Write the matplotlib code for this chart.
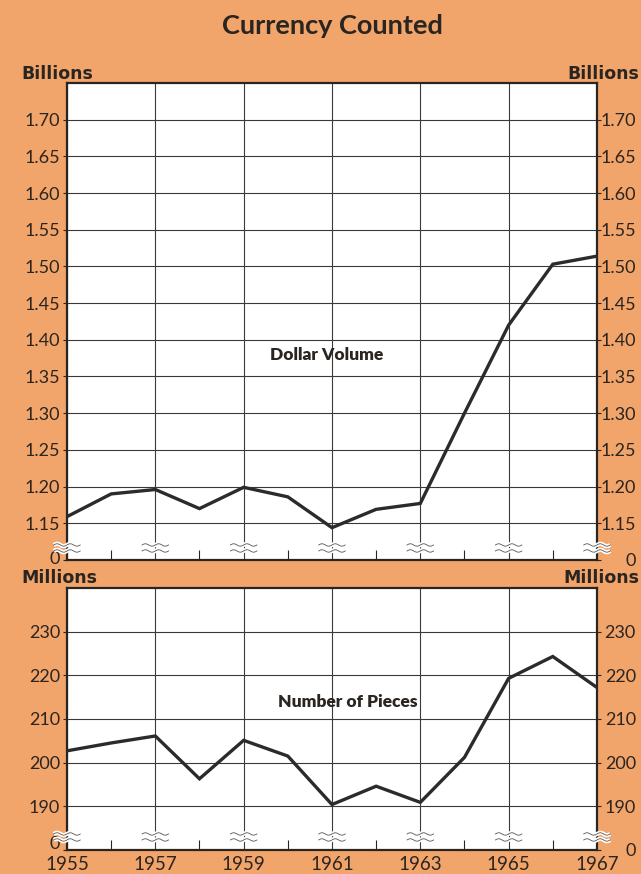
import numpy as np
import matplotlib
matplotlib.use("Agg")
import matplotlib.pyplot as plt
import matplotlib.transforms as mtransforms

BG = "#F2A56B"
INK = "#2a2520"
FONT = ["Lato", "DejaVu Sans"]

years = list(range(1955, 1968))
dollar_volume = [1.159, 1.190, 1.196, 1.170, 1.199, 1.186, 1.144,
                 1.169, 1.177, 1.300, 1.420, 1.503, 1.514]
pieces = [202.7, 204.5, 206.1, 196.3, 205.1, 201.5, 190.4,
          194.6, 190.9, 201.2, 219.3, 224.3, 217.2]

top_ticks = [1.10, 1.15, 1.20, 1.25, 1.30, 1.35, 1.40, 1.45, 1.50, 1.55, 1.60, 1.65, 1.70]
top_labels = ["0", "1.15", "1.20", "1.25", "1.30", "1.35", "1.40", "1.45",
              "1.50", "1.55", "1.60", "1.65", "1.70"]
bot_ticks = [180, 190, 200, 210, 220, 230]
bot_labels = ["0", "190", "200", "210", "220", "230"]
year_ticks = years[::2]
year_labels = [str(y) for y in year_ticks]

plt.rcParams['font.family'] = FONT

fig = plt.figure(figsize=(6.41, 8.74), dpi=100)
fig.patch.set_facecolor(BG)

ax_top = fig.add_axes([0.1045, 0.3593, 0.8268, 0.5458])
ax_bot = fig.add_axes([0.1045, 0.0275, 0.8268, 0.2998])


def style_axis(ax, yticks, ylabels, ylim, show_years, zero_lift):
    ax.set_facecolor("white")
    ax.set_xlim(1955, 1967)
    ax.set_ylim(*ylim)
    ax.set_yticks(yticks)
    ax.set_yticklabels(ylabels)
    ax.set_xticks(year_ticks)
    ax.set_xticks(years[1::2], minor=True)
    ax.grid(True, which="major", color="#3a3a3a", linewidth=0.8)
    ax.tick_params(axis="y", which="major", direction="out", length=3, width=0.8,
                   color=INK, labelsize=13, labelcolor=INK, pad=2,
                   left=True, right=True, labelleft=True, labelright=True)
    ax.tick_params(axis="x", which="major", length=0, labelsize=13.5,
                   labelcolor=INK, pad=4, labelbottom=show_years)
    ax.tick_params(axis="x", which="minor", direction="in", length=7,
                   width=0.8, color=INK, top=False)
    if show_years:
        ax.set_xticklabels(year_labels)
    for s in ax.spines.values():
        s.set_color(INK)
        s.set_linewidth(1.6)
    # right-hand labels sit flush right near the figure border
    shift = mtransforms.ScaledTranslation(23 / 72, 0, fig.dpi_scale_trans)
    for tk in ax.yaxis.get_major_ticks():
        tk.label2.set_horizontalalignment("right")
        tk.label2.set_transform(tk.label2.get_transform() + shift)
    # the "0" under the break sits a little higher on the left
    first = ax.yaxis.get_major_ticks()[0]
    lift = mtransforms.ScaledTranslation(0, zero_lift / 100, fig.dpi_scale_trans)
    first.label1.set_transform(first.label1.get_transform() + lift)


def draw_breaks(ax, offsets_px):
    # little double-wave marks that show the broken scale
    h_px = ax.get_position().height * fig.get_figheight() * fig.dpi
    trans = mtransforms.blended_transform_factory(ax.transData, ax.transAxes)
    t = np.linspace(-0.3, 0.3, 40)
    wave = np.sin(t / 0.3 * 2 * np.pi) * 1.2 / h_px
    for yr in year_ticks:
        for off in offsets_px:
            yy = off / h_px + wave
            ax.plot(yr + t, yy, color="white", lw=3.0, transform=trans,
                    clip_on=False, zorder=5, solid_capstyle="butt")
            ax.plot(yr + t, yy, color="#555555", lw=0.6, transform=trans,
                    clip_on=False, zorder=6)


style_axis(ax_top, top_ticks, top_labels, (1.10, 1.75), False, 2)
style_axis(ax_bot, bot_ticks, bot_labels, (180, 240), True, 7)

ax_top.plot(years, dollar_volume, color="#2b2b2b", lw=2.4, zorder=4,
            solid_joinstyle="miter")
ax_bot.plot(years, pieces, color="#2b2b2b", lw=2.4, zorder=4,
            solid_joinstyle="miter")

draw_breaks(ax_top, [15, 9])
draw_breaks(ax_bot, [16, 10])

ax_top.text(0.49, 0.43, "Dollar Volume", transform=ax_top.transAxes,
            ha="center", va="center", fontsize=12.5, fontweight="heavy",
            color=INK)
ax_bot.text(0.53, 0.565, "Number of Pieces", transform=ax_bot.transAxes,
            ha="center", va="center", fontsize=12.5, fontweight="heavy",
            color=INK)

fig.text(0.518, 0.970, "Currency Counted", ha="center", va="center",
         fontsize=19.5, fontweight="bold", color=INK)
WIDE = ["DejaVu Sans"]
fig.text(0.034, 0.915, "Billions", ha="left", va="center", fontsize=12.5,
         fontweight="bold", color=INK, family=WIDE)
fig.text(0.998, 0.915, "Billions", ha="right", va="center", fontsize=12.5,
         fontweight="bold", color=INK, family=WIDE)
fig.text(0.034, 0.339, "Millions", ha="left", va="center", fontsize=12.5,
         fontweight="bold", color=INK, family=WIDE)
fig.text(0.998, 0.339, "Millions", ha="right", va="center", fontsize=12.5,
         fontweight="bold", color=INK, family=WIDE)

fig.savefig("out.png", dpi=100, facecolor=BG)
